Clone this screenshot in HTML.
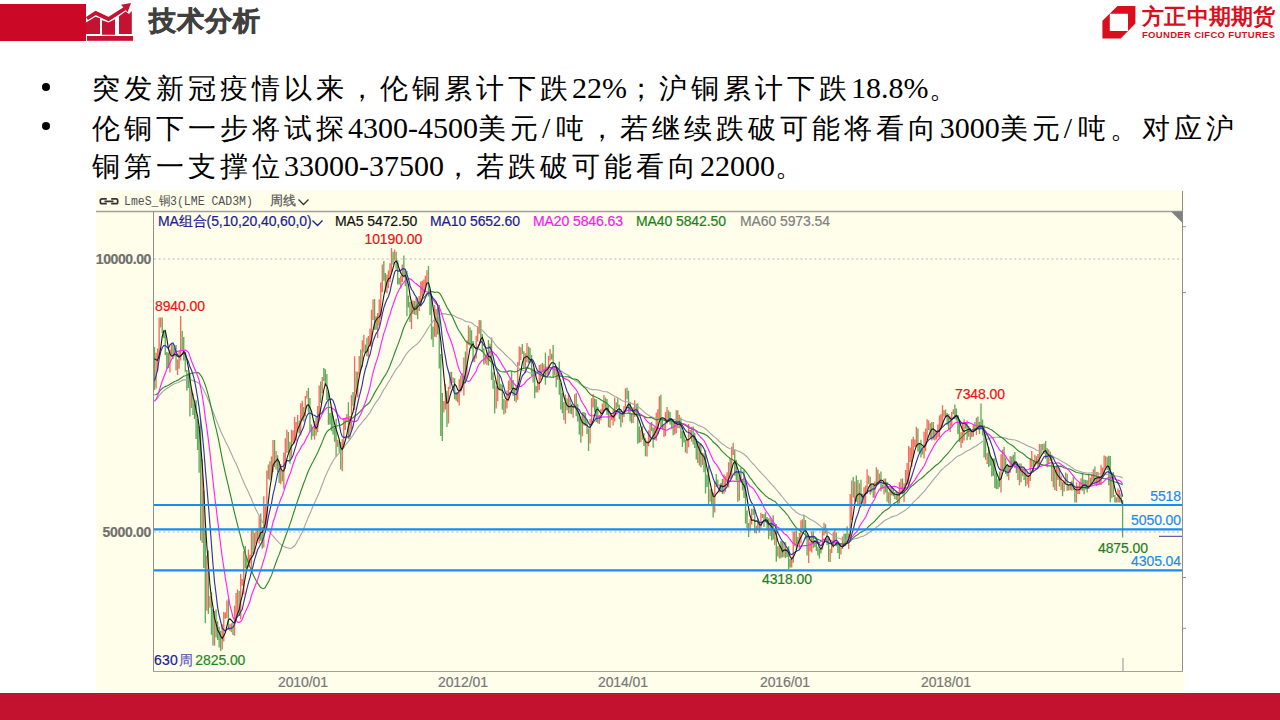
<!DOCTYPE html>
<html><head><meta charset="utf-8">
<style>
html,body{margin:0;padding:0;background:#fff;}
body{width:1280px;height:720px;position:relative;overflow:hidden;font-family:"Liberation Serif",serif;}
.abs{position:absolute;white-space:nowrap;}
#hdrbar{left:0;top:4px;width:86px;height:37px;background:#CB0826;}
#title{left:148.5px;top:1.5px;font-family:"Liberation Sans",sans-serif;font-weight:bold;font-size:27px;letter-spacing:1px;line-height:38px;color:#404040;-webkit-text-stroke:0.6px #404040;}
.bul{position:absolute;width:8px;height:8px;border-radius:50%;background:#000;}
.ln{position:absolute;white-space:nowrap;font-size:28px;letter-spacing:4px;line-height:38px;color:#000;}
.ln .n{font-size:30px;letter-spacing:0;}
#foot{left:0;top:693px;width:1280px;height:27px;background:#C21230;}
#chartbg{left:96px;top:190px;width:1089px;height:501px;background:#FFFEEB;}
.ct{position:absolute;white-space:nowrap;font-family:"Liberation Sans",sans-serif;font-size:14px;line-height:15px;-webkit-text-stroke:0.2px;letter-spacing:-0.1px;}
.rt{text-align:right;}
</style></head><body>
<div id="hdrbar" class="abs"></div>
<svg class="abs" style="left:84px;top:0" width="52" height="44" viewBox="84 0 52 44">
  <path d="M86 22.5 L95.5 16.8 L100 18.3 L100 33.9 L86 33.9Z" fill="#C41230"/>
  <path d="M102 20.2 L108.5 22.5 L115 19.3 L115 34.7 L102 34.7Z" fill="#C41230"/>
  <path d="M119 16.3 L125.6 11.5 L129 14 L131.8 11 L131.8 33.9 L119 33.9Z" fill="#C41230"/>
  <rect x="87" y="36" width="46" height="4.8" fill="#C41230"/>
  <path d="M87 18.5 L95.7 13 L108.5 19 L125 8.5" stroke="#C41230" stroke-width="3.8" fill="none" stroke-linejoin="miter"/>
  <path d="M121 4.8 L131 3 L127.6 12.2Z" fill="#C41230"/>
</svg>
<div id="title" class="abs">技术分析</div>
<!-- logo -->
<svg class="abs" style="left:1100px;top:4px" width="40" height="38" viewBox="1100 4 40 38">
  <path fill-rule="evenodd" fill="#DA0F1E" d="M1117.5 6 L1135.4 6 L1135.4 23.6 L1120.7 38.5 L1102.4 38.5 L1102.4 20.7Z M1109.8 13.7 L1128 13.7 L1128 30.9 L1109.8 30.9Z"/>
</svg>
<div class="abs" id="logocn" style="left:1142px;top:3.5px;letter-spacing:0.3px;font-family:'Liberation Sans',sans-serif;font-weight:bold;font-size:22px;line-height:26px;color:#DA0F1E;">方正中期期货</div>
<div class="abs" id="logoen" style="left:1142px;top:29.8px;letter-spacing:0.32px;font-family:'Liberation Sans',sans-serif;font-weight:bold;font-size:9.5px;line-height:10px;color:#DA0F1E;">FOUNDER CIFCO FUTURES</div>

<div class="bul" style="left:42px;top:83px"></div>
<div class="bul" style="left:42px;top:121.5px"></div>
<div class="ln" id="l1" style="left:92px;top:69px">突发新冠疫情以来，伦铜累计下跌<span class="n">22%</span>；沪铜累计下跌<span class="n">18.8%</span>。</div>
<div class="ln" id="l2" style="left:92px;top:109px">伦铜下一步将试探<span class="n">4300-4500</span>美元<span class="n" style="letter-spacing:5.5px">/</span>吨，若继续跌破可能将看向<span class="n">3000</span>美元<span class="n" style="letter-spacing:5.5px">/</span>吨。对应沪</div>
<div class="ln" id="l3" style="left:92px;top:146.5px">铜第一支撑位<span class="n">33000-37500</span>，若跌破可能看向<span class="n">22000</span>。</div>

<div id="chartbg" class="abs"></div>
<svg class="abs" style="left:0;top:0" width="1280" height="720" viewBox="0 0 1280 720">
  <!-- frame -->
  <rect x="1183" y="212" width="6" height="459" fill="#FFFFFF"/>
  <path d="M1183 226.7 H1186 M1183 292.5 H1186 M1183 577.5 H1186 M1183 628.3 H1186" stroke="#909090" stroke-width="1"/>
  <line x1="96" y1="211.5" x2="1182" y2="211.5" stroke="#A0A0A0" stroke-width="1.5"/>
  <line x1="153.5" y1="211" x2="153.5" y2="671" stroke="#909090" stroke-width="1"/>
  <line x1="1182.5" y1="191" x2="1182.5" y2="671" stroke="#909090" stroke-width="1"/>
  <line x1="153" y1="671.5" x2="1183" y2="671.5" stroke="#A0A0A0" stroke-width="1"/>
  <path d="M1171 211.5 L1182.5 211.5 L1182.5 223Z" fill="#808080"/>
  <line x1="154" y1="259" x2="1182" y2="259" stroke="#CFCFCF" stroke-width="1.3" stroke-dasharray="2 2.65"/>
  <line x1="154" y1="532" x2="1182" y2="532" stroke="#CFCFCF" stroke-width="1.3" stroke-dasharray="2 2.65"/>
  <g>
  <path d="M156.04 352.7V388.6M157.58 348.5V371.2M159.12 317.5V358.3M160.66 317.5V327.6M169.89 349.5V372.5M171.43 344.0V354.7M177.59 359.5V375.0M179.13 351.2V368.8M180.66 316.0V360.5M191.44 389.5V407.9M202.21 459.1V542.9M206.83 555.6V610.7M209.91 595.9V607.7M214.53 610.9V645.7M222.22 624.2V649.5M223.76 611.9V641.5M225.30 612.4V618.8M226.84 600.5V618.1M229.92 624.3V630.8M231.46 623.2V632.3M234.53 605.7V635.7M236.07 593.0V621.6M237.61 589.4V615.3M240.69 574.1V619.6M242.23 578.9V585.8M243.77 551.0V594.5M248.39 549.5V567.4M249.92 554.8V563.6M251.46 530.2V569.9M254.54 532.7V553.7M256.08 528.6V543.8M259.16 516.1V543.6M263.78 496.2V547.6M265.32 506.3V529.1M266.86 470.4V529.6M268.39 464.5V479.2M271.47 456.6V477.2M273.01 440.1V472.0M276.09 451.1V469.4M280.71 464.0V484.3M283.79 452.4V488.8M285.32 438.2V468.7M286.86 429.8V453.1M291.48 429.8V458.4M293.02 430.5V442.5M294.56 417.0V443.4M296.10 422.1V440.8M297.64 415.1V431.6M300.72 403.2V435.4M302.25 400.8V420.6M305.33 396.1V416.5M306.87 391.1V398.4M314.57 421.1V439.4M317.65 405.9V432.3M319.18 385.6V419.6M322.26 376.9V393.2M337.65 439.7V447.1M342.27 439.2V471.2M343.81 417.9V448.3M345.35 418.3V430.0M346.89 414.0V422.1M349.97 416.1V439.7M351.51 395.1V429.4M354.58 356.2V409.9M357.66 371.7V397.2M359.20 356.0V375.3M362.28 340.2V367.3M363.82 334.7V352.6M368.44 336.1V356.9M369.98 328.6V346.4M371.51 309.8V346.7M373.05 299.4V320.0M377.67 312.9V338.0M379.21 299.6V325.6M380.75 282.6V318.6M382.29 264.5V292.2M386.91 274.7V293.2M388.44 270.5V288.2M389.98 263.2V282.1M391.52 248.0V272.6M394.60 249.5V260.4M400.76 275.8V288.4M402.30 264.6V282.1M411.53 300.5V329.0M413.07 300.5V314.1M416.15 296.9V315.1M419.23 296.0V310.9M420.77 281.6V306.4M422.31 280.7V296.5M423.84 279.4V293.3M425.38 275.8V291.5M426.92 270.2V284.7M434.62 305.1V336.7M436.16 309.3V337.3M443.85 401.0V412.6M445.39 384.3V409.5M448.47 386.8V423.6M450.01 372.0V389.1M453.09 377.6V383.0M457.70 392.0V402.3M459.24 379.3V405.6M460.78 375.8V392.5M463.86 357.4V395.6M466.94 340.2V378.6M468.48 325.4V344.8M474.63 355.4V362.1M476.17 335.8V358.5M477.71 326.8V341.4M479.25 319.9V333.7M485.41 355.6V363.4M486.95 352.3V364.9M490.03 343.7V361.0M496.18 386.1V408.4M497.72 372.4V401.3M505.42 400.2V413.2M506.96 390.6V408.6M508.50 380.8V401.2M510.03 378.8V390.1M516.19 384.9V402.6M517.73 362.0V399.8M519.27 346.4V365.8M520.81 347.3V359.9M525.43 353.2V373.3M526.96 343.0V362.2M537.74 382.3V392.6M539.28 364.9V390.2M540.82 364.2V380.1M543.89 364.2V374.9M546.97 366.5V375.6M548.51 356.0V374.7M550.05 348.9V360.4M554.67 367.0V375.5M557.75 367.5V380.1M565.44 394.6V423.8M568.52 393.5V413.2M573.14 405.9V417.7M574.68 394.3V407.5M582.37 412.3V436.3M590.07 419.0V443.5M591.61 398.3V425.3M593.15 394.1V407.6M599.30 415.0V423.9M600.84 409.2V420.2M602.38 403.5V414.7M603.92 395.1V410.9M610.08 413.4V428.1M611.62 415.2V420.0M613.15 409.7V425.5M614.69 397.5V421.6M622.39 413.0V422.6M623.93 406.3V417.0M625.47 388.3V408.6M633.16 407.3V422.9M634.70 400.2V416.9M640.86 429.7V442.2M647.02 440.8V456.4M648.55 430.3V446.3M650.09 423.3V441.7M654.71 427.3V440.0M656.25 412.8V440.7M657.79 409.3V434.2M659.33 396.2V418.9M663.95 424.9V437.1M665.48 411.9V435.9M667.02 407.1V423.5M674.72 422.0V434.6M676.26 410.3V433.2M679.34 414.8V428.3M687.03 439.1V453.6M688.57 424.1V447.3M691.65 426.7V441.8M699.34 444.0V465.5M702.42 452.8V465.0M710.12 489.3V501.7M714.74 481.6V512.5M719.35 484.2V492.4M723.97 474.3V493.7M725.51 476.2V491.7M727.05 472.2V482.2M728.59 462.3V487.6M731.67 446.7V478.0M733.21 442.7V455.0M739.36 476.1V500.6M750.14 519.0V530.8M751.67 508.8V524.5M756.29 525.7V533.5M757.83 517.9V529.5M760.91 512.7V529.7M762.45 513.9V518.1M770.14 517.4V535.9M774.76 530.1V545.0M779.38 545.5V558.4M784.00 542.6V557.2M791.69 557.5V567.5M793.23 531.6V562.8M794.77 531.2V546.0M799.39 532.8V548.8M800.93 520.3V543.6M802.47 519.3V530.8M808.62 537.7V563.0M810.16 541.8V551.3M811.70 531.4V552.5M822.47 530.5V549.8M824.01 522.7V535.6M830.17 549.1V562.1M831.71 541.8V553.0M833.25 532.2V547.6M834.79 529.4V542.6M840.94 547.3V554.5M842.48 536.4V549.0M848.64 533.4V549.1M850.18 493.9V539.5M851.72 480.5V519.9M854.79 481.5V501.8M859.41 483.2V504.6M864.03 487.2V506.4M865.57 485.4V503.7M867.11 469.2V493.7M868.65 475.5V483.9M871.73 484.6V492.4M874.80 481.4V497.7M876.34 467.2V485.5M879.42 473.6V483.8M884.04 478.4V494.4M888.66 492.2V503.6M891.73 486.4V495.2M896.35 492.1V500.1M899.43 482.2V503.4M900.97 478.8V493.8M904.05 483.3V502.1M905.59 470.1V489.7M907.12 463.1V484.7M908.66 446.0V486.2M910.20 447.4V462.1M911.74 439.3V466.9M913.28 436.8V457.4M914.82 439.5V447.0M916.36 426.7V446.9M924.05 431.8V458.6M925.59 428.6V451.2M927.13 419.3V439.9M928.67 420.4V429.9M931.75 422.1V440.4M934.83 429.9V440.4M936.37 430.8V439.5M937.91 424.6V437.3M939.45 415.5V437.1M940.99 414.0V429.4M942.52 405.2V426.1M944.06 410.3V416.8M950.22 416.4V432.1M951.76 412.0V426.3M953.30 409.3V414.3M960.99 432.3V447.7M962.53 423.8V443.1M964.07 419.2V440.4M968.69 425.9V436.7M971.77 430.8V437.2M973.31 425.2V436.4M976.38 417.7V435.1M987.16 453.0V464.0M1001.01 454.2V492.5M1002.55 449.5V469.6M1008.71 465.6V480.3M1010.24 456.1V472.7M1019.48 463.4V485.3M1022.56 467.2V476.3M1027.18 471.9V484.5M1028.71 474.7V487.8M1030.25 458.4V481.0M1031.79 451.1V467.2M1034.87 454.7V466.3M1037.95 454.1V467.3M1039.49 444.0V467.3M1042.57 444.1V450.6M1048.72 449.5V463.1M1053.34 463.9V487.2M1056.42 465.3V490.9M1057.96 465.0V479.9M1061.04 475.4V490.0M1064.11 480.5V491.4M1065.65 472.5V483.4M1068.73 484.1V490.5M1071.81 480.8V490.8M1076.43 482.2V502.5M1077.97 485.8V494.0M1079.50 481.9V494.1M1081.04 478.3V490.4M1088.74 473.6V489.1M1091.82 474.0V484.1M1093.36 469.3V480.8M1096.44 472.0V486.0M1097.97 471.7V484.8M1099.51 475.9V483.9M1101.05 464.8V484.9M1102.59 467.5V478.9M1104.13 455.5V475.5M1105.67 456.2V467.4M1111.83 476.0V498.3M1117.98 488.6V502.5M1119.52 490.0V502.5" stroke="#F26F5C" stroke-width="1.35" fill="none"/>
<path d="M154.50 346.9V389.9M162.20 317.5V333.2M163.73 329.8V338.0M165.27 330.4V355.1M166.81 351.9V368.8M168.35 352.6V367.9M172.97 344.1V358.9M174.51 347.4V356.4M176.05 344.9V370.6M182.20 331.0V350.5M183.74 337.1V360.6M185.28 352.6V371.9M186.82 370.1V390.6M188.36 373.5V388.0M189.90 373.9V416.4M192.98 393.5V414.9M194.52 403.6V418.9M196.06 400.2V438.9M197.60 418.9V450.1M199.13 425.9V472.7M200.67 420.2V540.6M203.75 490.5V567.9M205.29 528.5V623.3M208.37 550.6V613.9M211.45 592.3V634.8M212.99 609.3V645.5M216.06 609.5V637.6M217.60 621.2V640.1M219.14 626.8V647.6M220.68 630.7V651.0M228.38 598.8V630.1M232.99 622.0V635.1M239.15 591.1V616.1M245.31 546.1V568.3M246.85 558.3V570.3M253.00 529.5V554.2M257.62 528.8V538.9M260.70 513.5V540.7M262.24 527.0V548.7M269.93 461.2V480.2M274.55 439.9V466.9M277.63 455.3V472.1M279.17 461.0V483.1M282.25 471.0V481.5M288.40 432.1V452.2M289.94 441.7V463.8M299.18 420.4V433.4M303.79 407.0V421.4M308.41 388.0V412.5M309.95 398.1V431.8M311.49 424.4V439.8M313.03 427.2V436.3M316.11 417.2V435.6M320.72 381.4V402.9M323.80 368.1V381.1M325.34 369.3V385.7M326.88 373.9V400.1M328.42 391.5V424.8M329.96 412.9V424.4M331.50 407.0V431.2M333.04 415.4V434.6M334.58 427.4V441.7M336.11 418.7V456.5M339.19 440.7V452.3M340.73 441.9V469.5M348.43 402.3V439.3M353.05 392.0V405.7M356.12 371.5V391.9M360.74 349.4V370.2M365.36 344.4V352.4M366.90 337.8V356.3M374.59 299.0V330.0M376.13 316.3V329.8M383.83 261.0V280.7M385.37 272.9V292.3M393.06 251.7V264.5M396.14 251.7V268.8M397.68 260.3V284.5M399.22 278.0V284.5M403.84 255.4V277.6M405.37 269.4V286.2M406.91 271.0V316.3M408.45 295.6V307.6M409.99 302.1V321.9M414.61 301.0V314.7M417.69 297.5V319.3M428.46 265.9V296.6M430.00 288.7V315.0M431.54 295.7V339.5M433.08 326.5V346.9M437.70 306.8V334.6M439.24 304.9V368.6M440.77 354.0V436.0M442.31 393.0V441.0M446.93 390.7V426.9M451.55 371.8V384.5M454.63 378.2V399.3M456.17 391.7V400.8M462.32 373.3V385.3M465.40 351.5V383.5M470.02 327.4V345.5M471.56 330.3V348.6M473.10 341.1V362.2M480.79 320.2V342.0M482.33 333.9V351.8M483.87 348.3V364.6M488.49 340.1V365.5M491.57 337.5V380.0M493.10 372.3V388.7M494.64 380.2V413.6M499.26 375.1V390.3M500.80 383.7V389.1M502.34 384.7V409.7M503.88 398.9V414.4M511.57 371.4V389.0M513.11 380.1V395.8M514.65 388.0V400.9M522.35 344.0V353.8M523.89 351.2V369.1M528.50 346.4V362.7M530.04 347.8V363.2M531.58 354.7V376.2M533.12 368.4V382.4M534.66 370.9V398.3M536.20 385.9V392.5M542.36 362.9V372.6M545.43 352.5V384.7M551.59 353.8V359.5M553.13 345.1V378.0M556.21 366.1V387.3M559.29 361.4V394.8M560.82 382.9V409.4M562.36 392.8V413.3M563.90 402.0V420.0M566.98 398.3V410.2M570.06 398.3V413.6M571.60 403.8V414.2M576.22 392.8V416.2M577.76 403.9V421.4M579.29 413.2V434.5M580.83 416.8V442.8M583.91 411.9V425.4M585.45 412.9V425.8M586.99 419.8V434.1M588.53 428.6V451.0M594.69 398.5V411.9M596.22 399.2V422.1M597.76 406.7V423.2M605.46 397.5V410.3M607.00 399.1V414.9M608.54 405.6V427.3M616.23 402.6V409.0M617.77 398.3V407.4M619.31 404.8V419.2M620.85 413.9V427.3M627.01 387.7V399.2M628.55 390.8V412.7M630.08 401.7V421.6M631.62 413.1V423.3M636.24 403.7V415.4M637.78 403.6V443.7M639.32 426.4V442.8M642.40 426.3V439.7M643.94 433.3V446.0M645.48 437.9V456.2M651.63 422.1V431.3M653.17 427.4V447.7M660.87 394.8V426.5M662.41 417.5V430.0M668.56 410.3V421.4M670.10 412.1V424.5M671.64 419.5V428.5M673.18 418.9V435.2M677.80 410.2V428.3M680.88 417.4V438.5M682.41 431.0V447.1M683.95 431.7V442.6M685.49 439.5V452.6M690.11 429.9V437.3M693.19 426.4V444.5M694.73 432.8V448.1M696.27 438.7V459.5M697.81 440.9V463.0M700.88 443.6V467.2M703.96 453.2V472.3M705.50 450.2V493.4M707.04 474.6V487.0M708.58 465.2V503.9M711.66 489.0V506.3M713.20 492.7V517.6M716.28 474.0V487.0M717.81 479.6V486.1M720.89 482.9V492.3M722.43 478.9V494.1M730.13 457.9V478.9M734.74 450.1V475.7M736.28 459.9V480.4M737.82 471.3V501.7M740.90 468.1V482.5M742.44 479.5V490.2M743.98 469.7V497.9M745.52 480.5V523.6M747.06 510.6V528.3M748.60 522.9V536.9M753.21 508.8V515.1M754.75 509.7V533.0M759.37 522.5V532.6M763.99 514.1V527.2M765.53 512.2V522.3M767.07 517.0V530.2M768.60 518.6V539.2M771.68 520.1V540.4M773.22 515.2V539.5M776.30 523.9V561.7M777.84 546.3V556.6M780.92 540.9V558.2M782.46 541.3V557.2M785.53 542.2V558.1M787.07 549.1V557.1M788.61 546.3V569.0M790.15 558.9V567.5M796.31 530.6V549.5M797.85 536.9V544.2M804.00 514.8V531.2M805.54 520.0V539.2M807.08 534.4V555.5M813.24 531.0V548.3M814.78 540.4V547.0M816.32 537.6V551.1M817.86 546.5V555.4M819.40 548.8V558.4M820.93 547.8V553.4M825.55 524.2V533.5M827.09 530.2V544.9M828.63 536.6V561.8M836.33 532.4V546.2M837.86 544.5V553.0M839.40 544.3V558.9M844.02 533.8V546.2M845.56 533.4V545.8M847.10 526.2V543.6M853.26 477.0V497.4M856.33 475.5V501.7M857.87 480.0V505.2M860.95 479.8V507.3M862.49 493.8V503.6M870.19 476.7V494.5M873.26 483.1V497.8M877.88 469.4V484.9M880.96 471.5V491.3M882.50 484.4V488.6M885.58 478.4V492.4M887.12 481.9V501.8M890.19 488.3V503.9M893.27 488.0V496.2M894.81 492.0V498.9M897.89 493.0V505.9M902.51 478.6V494.5M917.90 428.4V451.5M919.44 443.6V452.9M920.98 439.8V457.5M922.52 448.8V454.5M930.21 423.2V438.0M933.29 421.9V439.6M945.60 409.5V417.2M947.14 413.1V425.3M948.68 414.2V430.1M954.84 404.5V419.0M956.38 408.6V420.6M957.92 415.0V433.9M959.45 420.8V442.0M965.61 422.8V428.7M967.15 420.6V440.2M970.23 428.0V439.8M974.85 421.9V430.8M977.92 416.6V429.8M979.46 421.8V434.0M981.00 403.5V429.1M982.54 419.4V435.4M984.08 425.2V457.5M985.62 434.1V459.7M988.70 446.9V467.1M990.24 455.0V465.8M991.78 457.9V476.6M993.31 458.5V475.8M994.85 458.3V488.1M996.39 472.8V489.3M997.93 479.2V489.0M999.47 471.5V487.2M1004.09 446.7V469.4M1005.63 457.4V474.1M1007.17 465.2V476.4M1011.78 456.6V467.5M1013.32 454.7V465.4M1014.86 452.0V467.9M1016.40 463.5V473.1M1017.94 463.5V480.1M1021.02 463.5V482.3M1024.10 468.2V480.0M1025.64 469.1V486.2M1033.33 460.1V472.3M1036.41 456.3V464.5M1041.03 444.0V455.7M1044.11 443.5V453.9M1045.64 441.0V458.8M1047.18 448.2V467.2M1050.26 451.7V460.7M1051.80 454.7V481.2M1054.88 470.1V489.9M1059.50 467.8V486.5M1062.57 482.2V496.2M1067.19 473.8V490.7M1070.27 482.9V489.9M1073.35 477.2V490.2M1074.89 488.5V502.5M1082.58 474.1V490.7M1084.12 479.5V494.2M1085.66 479.8V489.5M1087.20 480.2V492.4M1090.28 477.7V485.6M1094.90 466.5V484.2M1107.21 456.8V470.1M1108.75 455.7V485.3M1110.29 456.0V502.3M1113.37 471.9V497.1M1114.90 495.1V502.5M1116.44 497.5V502.5M1121.06 493.8V502.5M1122.60 500.0V537.5" stroke="#62AB5C" stroke-width="1.35" fill="none"/>
<polyline points="154.5,400.8 156.0,399.5 157.6,398.0 159.1,396.0 160.7,393.9 162.2,392.1 163.7,390.7 165.3,389.5 166.8,388.6 168.4,387.6 169.9,386.5 171.4,385.4 173.0,384.5 174.5,383.7 176.0,383.3 177.6,382.8 179.1,382.1 180.7,381.2 182.2,380.4 183.7,379.9 185.3,379.9 186.8,379.9 188.4,379.9 189.9,380.0 191.4,380.1 193.0,380.6 194.5,381.1 196.1,381.8 197.6,382.6 199.1,383.5 200.7,385.4 202.2,387.3 203.8,390.2 205.3,393.6 206.8,396.6 208.4,400.2 209.9,403.6 211.4,407.6 213.0,411.8 214.5,415.5 216.1,419.6 217.6,423.4 219.1,427.0 220.7,431.0 222.2,434.5 223.8,437.8 225.3,441.1 226.8,444.0 228.4,447.0 229.9,450.5 231.5,453.9 233.0,457.5 234.5,460.7 236.1,463.7 237.6,467.3 239.2,471.2 240.7,474.9 242.2,478.7 243.8,482.2 245.3,485.8 246.8,488.7 248.4,492.0 249.9,495.4 251.5,499.0 253.0,503.1 254.5,506.5 256.1,509.8 257.6,512.8 259.2,515.6 260.7,518.4 262.2,521.4 263.8,524.2 265.3,526.8 266.9,528.9 268.4,530.6 269.9,532.4 271.5,534.3 273.0,536.0 274.6,537.9 276.1,539.7 277.6,541.2 279.2,542.9 280.7,544.3 282.2,545.6 283.8,546.6 285.3,547.1 286.9,547.6 288.4,548.0 289.9,548.4 291.5,548.2 293.0,547.0 294.6,545.8 296.1,543.6 297.6,540.7 299.2,538.3 300.7,535.1 302.3,532.0 303.8,528.5 305.3,524.4 306.9,520.6 308.4,516.9 310.0,513.4 311.5,510.0 313.0,506.3 314.6,502.8 316.1,499.6 317.6,496.2 319.2,492.6 320.7,488.7 322.3,484.5 323.8,480.4 325.3,476.4 326.9,472.9 328.4,469.7 330.0,466.6 331.5,463.6 333.0,461.0 334.6,458.5 336.1,456.7 337.7,454.7 339.2,452.8 340.7,451.3 342.3,449.3 343.8,447.3 345.3,445.1 346.9,443.1 348.4,441.4 350.0,439.4 351.5,437.3 353.0,435.1 354.6,432.4 356.1,430.2 357.7,427.9 359.2,425.9 360.7,424.2 362.3,422.1 363.8,420.1 365.4,418.5 366.9,416.7 368.4,414.7 370.0,412.6 371.5,409.8 373.1,407.0 374.6,404.4 376.1,402.2 377.7,400.2 379.2,398.0 380.7,395.4 382.3,392.3 383.8,389.6 385.4,387.2 386.9,384.8 388.4,382.2 390.0,379.7 391.5,376.9 393.1,374.4 394.6,371.8 396.1,369.3 397.7,367.4 399.2,365.5 400.8,363.4 402.3,360.8 403.8,358.1 405.4,355.5 406.9,353.4 408.5,351.4 410.0,349.8 411.5,348.5 413.1,347.0 414.6,345.9 416.1,344.7 417.7,343.4 419.2,341.8 420.8,339.7 422.3,337.5 423.8,335.2 425.4,332.7 426.9,330.1 428.5,327.5 430.0,325.3 431.5,323.3 433.1,321.1 434.6,319.0 436.2,317.1 437.7,315.5 439.2,314.5 440.8,314.0 442.3,313.7 443.9,313.8 445.4,313.7 446.9,314.5 448.5,314.6 450.0,314.6 451.5,314.9 453.1,315.2 454.6,316.1 456.2,317.0 457.7,317.7 459.2,318.2 460.8,318.8 462.3,319.6 463.9,320.3 465.4,321.4 466.9,321.8 468.5,321.9 470.0,322.2 471.6,322.7 473.1,323.9 474.6,325.3 476.2,326.3 477.7,327.1 479.3,327.8 480.8,328.9 482.3,330.2 483.9,332.0 485.4,333.7 486.9,335.3 488.5,336.8 490.0,337.9 491.6,339.5 493.1,341.3 494.6,343.5 496.2,345.6 497.7,347.3 499.3,348.7 500.8,350.0 502.3,351.4 503.9,353.1 505.4,354.8 507.0,356.2 508.5,357.6 510.0,358.8 511.6,360.3 513.1,361.9 514.7,363.8 516.2,365.6 517.7,367.0 519.3,368.4 520.8,369.3 522.3,370.0 523.9,370.7 525.4,371.1 527.0,371.6 528.5,372.4 530.0,373.0 531.6,373.3 533.1,373.0 534.7,372.7 536.2,372.5 537.7,372.4 539.3,371.7 540.8,371.3 542.4,371.2 543.9,371.0 545.4,370.9 547.0,370.5 548.5,369.8 550.1,369.1 551.6,368.7 553.1,368.6 554.7,368.5 556.2,368.7 557.7,368.9 559.3,369.6 560.8,370.7 562.4,371.8 563.9,373.0 565.4,373.7 567.0,374.5 568.5,375.5 570.1,376.7 571.6,378.1 573.1,379.3 574.7,380.2 576.2,381.1 577.8,382.1 579.3,383.3 580.8,384.5 582.4,385.7 583.9,386.4 585.5,387.1 587.0,387.6 588.5,388.3 590.1,389.0 591.6,389.4 593.1,389.6 594.7,389.6 596.2,389.7 597.8,389.9 599.3,390.3 600.8,390.7 602.4,391.2 603.9,391.5 605.5,391.7 607.0,391.9 608.5,392.5 610.1,393.4 611.6,394.4 613.2,395.5 614.7,396.3 616.2,396.9 617.8,397.7 619.3,398.8 620.9,399.8 622.4,400.7 623.9,401.3 625.5,401.6 627.0,401.7 628.5,402.0 630.1,402.6 631.6,403.4 633.2,404.1 634.7,404.7 636.2,405.5 637.8,406.5 639.3,407.6 640.9,409.0 642.4,410.4 643.9,411.8 645.5,413.1 647.0,414.3 648.6,415.3 650.1,416.2 651.6,416.9 653.2,417.6 654.7,418.0 656.2,418.1 657.8,418.3 659.3,418.3 660.9,418.6 662.4,418.9 663.9,419.2 665.5,419.3 667.0,419.6 668.6,419.6 670.1,419.6 671.6,419.6 673.2,419.5 674.7,419.6 676.3,419.6 677.8,419.6 679.3,419.5 680.9,419.4 682.4,419.7 684.0,420.2 685.5,421.0 687.0,421.6 688.6,421.8 690.1,422.1 691.6,422.4 693.2,422.8 694.7,423.5 696.3,424.3 697.8,425.2 699.3,425.8 700.9,426.4 702.4,427.0 704.0,427.7 705.5,428.8 707.0,430.2 708.6,431.7 710.1,433.1 711.7,434.5 713.2,436.0 714.7,437.1 716.3,438.4 717.8,439.9 719.4,441.4 720.9,442.8 722.4,443.9 724.0,444.9 725.5,446.1 727.0,447.3 728.6,448.1 730.1,448.8 731.7,449.0 733.2,449.2 734.7,449.7 736.3,450.3 737.8,451.0 739.4,451.6 740.9,452.3 742.4,453.2 744.0,454.2 745.5,455.5 747.1,457.0 748.6,458.8 750.1,460.6 751.7,462.4 753.2,464.0 754.8,465.7 756.3,467.4 757.8,469.1 759.4,471.0 760.9,472.7 762.4,474.2 764.0,475.8 765.5,477.3 767.1,479.0 768.6,481.0 770.1,482.6 771.7,484.4 773.2,486.0 774.8,487.6 776.3,489.5 777.8,491.3 779.4,493.1 780.9,495.1 782.5,497.0 784.0,499.0 785.5,500.8 787.1,502.6 788.6,504.4 790.2,506.3 791.7,508.1 793.2,509.5 794.8,510.8 796.3,512.2 797.8,513.2 799.4,514.2 800.9,514.7 802.5,515.1 804.0,515.6 805.5,516.0 807.1,517.2 808.6,518.2 810.2,519.2 811.7,519.9 813.2,520.8 814.8,521.7 816.3,522.8 817.9,524.0 819.4,525.2 820.9,526.6 822.5,527.7 824.0,528.9 825.6,530.2 827.1,531.4 828.6,532.7 830.2,533.6 831.7,534.7 833.2,535.7 834.8,536.6 836.3,537.5 837.9,538.0 839.4,538.5 840.9,538.9 842.5,539.1 844.0,539.6 845.6,540.1 847.1,540.3 848.6,540.4 850.2,540.2 851.7,539.5 853.3,539.2 854.8,538.8 856.3,538.4 857.9,538.1 859.4,537.3 861.0,536.8 862.5,536.4 864.0,535.8 865.6,535.0 867.1,534.1 868.6,532.8 870.2,531.8 871.7,530.7 873.3,529.7 874.8,528.6 876.3,527.3 877.9,526.2 879.4,525.0 881.0,523.7 882.5,522.3 884.0,521.0 885.6,520.0 887.1,519.3 888.7,518.5 890.2,517.8 891.7,516.9 893.3,516.4 894.8,516.0 896.4,515.5 897.9,514.8 899.4,513.8 901.0,512.8 902.5,511.9 904.0,511.1 905.6,510.1 907.1,508.9 908.7,507.4 910.2,505.8 911.7,504.2 913.3,502.4 914.8,500.9 916.4,499.4 917.9,498.0 919.4,496.5 921.0,494.7 922.5,493.0 924.1,491.3 925.6,489.6 927.1,487.7 928.7,485.7 930.2,483.8 931.8,481.7 933.3,479.8 934.8,478.0 936.4,476.2 937.9,474.3 939.4,472.4 941.0,470.5 942.5,468.8 944.1,467.6 945.6,466.2 947.1,465.1 948.7,463.8 950.2,462.5 951.8,461.4 953.3,459.9 954.8,458.4 956.4,457.1 957.9,456.1 959.5,455.5 961.0,454.8 962.5,453.8 964.1,452.7 965.6,451.7 967.1,450.9 968.7,450.2 970.2,449.4 971.8,448.6 973.3,447.6 974.8,446.7 976.4,445.7 977.9,444.7 979.5,443.6 981.0,442.4 982.5,441.4 984.1,440.7 985.6,440.0 987.2,439.3 988.7,438.7 990.2,438.1 991.8,437.6 993.3,437.4 994.9,437.3 996.4,437.2 997.9,437.2 999.5,437.4 1001.0,437.5 1002.5,437.5 1004.1,437.7 1005.6,438.1 1007.2,438.6 1008.7,439.2 1010.2,439.4 1011.8,439.6 1013.3,439.7 1014.9,440.0 1016.4,440.5 1017.9,441.1 1019.5,441.8 1021.0,442.7 1022.6,443.3 1024.1,444.1 1025.6,444.9 1027.2,445.6 1028.7,446.4 1030.3,446.9 1031.8,447.5 1033.3,448.2 1034.9,449.0 1036.4,449.9 1037.9,450.7 1039.5,451.1 1041.0,451.6 1042.6,452.0 1044.1,452.6 1045.6,453.3 1047.2,454.2 1048.7,454.9 1050.3,455.3 1051.8,455.9 1053.3,456.6 1054.9,457.5 1056.4,458.3 1058.0,459.1 1059.5,459.9 1061.0,460.8 1062.6,461.7 1064.1,462.6 1065.7,463.4 1067.2,464.4 1068.7,465.4 1070.3,466.5 1071.8,467.4 1073.3,468.5 1074.9,469.6 1076.4,470.3 1078.0,470.8 1079.5,471.3 1081.0,471.7 1082.6,472.2 1084.1,472.5 1085.7,472.8 1087.2,473.0 1088.7,473.0 1090.3,473.0 1091.8,472.8 1093.4,473.1 1094.9,473.4 1096.4,473.7 1098.0,473.9 1099.5,473.9 1101.1,474.0 1102.6,474.2 1104.1,474.2 1105.7,474.2 1107.2,474.3 1108.7,474.3 1110.3,474.6 1111.8,474.8 1113.4,475.1 1114.9,475.7 1116.4,476.0 1118.0,476.3 1119.5,476.6 1121.1,477.1 1122.6,478.1" stroke="#A8A8A8" stroke-width="1.15" fill="none"/>
<polyline points="154.5,394.9 156.0,394.5 157.6,393.7 159.1,391.9 160.7,389.8 162.2,388.5 163.7,387.4 165.3,386.6 166.8,386.0 168.4,385.2 169.9,384.3 171.4,383.3 173.0,382.4 174.5,381.5 176.0,381.0 177.6,380.4 179.1,379.4 180.7,378.3 182.2,377.2 183.7,376.1 185.3,375.7 186.8,375.2 188.4,374.3 189.9,373.8 191.4,373.2 193.0,373.0 194.5,372.8 196.1,372.7 197.6,372.4 199.1,373.2 200.7,375.3 202.2,377.6 203.8,381.1 205.3,385.3 206.8,389.8 208.4,395.6 209.9,401.6 211.4,408.4 213.0,415.8 214.5,422.6 216.1,428.7 217.6,435.4 219.1,442.4 220.7,450.8 222.2,458.9 223.8,466.1 225.3,473.1 226.8,479.4 228.4,486.1 229.9,492.7 231.5,499.4 233.0,506.3 234.5,512.8 236.1,519.1 237.6,525.1 239.2,531.1 240.7,536.9 242.2,542.8 243.8,548.0 245.3,553.3 246.8,558.1 248.4,562.5 249.9,566.9 251.5,570.4 253.0,574.2 254.5,577.4 256.1,580.5 257.6,583.1 259.2,585.4 260.7,587.5 262.2,588.3 263.8,588.6 265.3,587.4 266.9,584.5 268.4,581.9 269.9,578.7 271.5,575.4 273.0,570.9 274.6,566.4 276.1,562.3 277.6,558.1 279.2,554.4 280.7,550.3 282.2,545.7 283.8,541.3 285.3,537.0 286.9,532.6 288.4,528.7 289.9,524.4 291.5,519.8 293.0,514.9 294.6,510.0 296.1,505.4 297.6,500.8 299.2,496.3 300.7,491.5 302.3,487.2 303.8,483.0 305.3,479.1 306.9,474.8 308.4,471.0 310.0,467.6 311.5,464.4 313.0,461.7 314.6,458.5 316.1,455.7 317.6,452.7 319.2,449.1 320.7,445.7 322.3,441.9 323.8,437.9 325.3,434.6 326.9,431.8 328.4,430.3 330.0,429.2 331.5,427.9 333.0,427.0 334.6,426.6 336.1,426.2 337.7,425.8 339.2,425.5 340.7,425.1 342.3,424.3 343.8,423.0 345.3,422.0 346.9,421.4 348.4,421.0 350.0,420.3 351.5,418.8 353.0,417.8 354.6,416.3 356.1,415.2 357.7,413.9 359.2,412.3 360.7,410.8 362.3,409.1 363.8,407.5 365.4,405.9 366.9,404.8 368.4,403.5 370.0,401.6 371.5,399.0 373.1,395.8 374.6,392.9 376.1,390.4 377.7,387.8 379.2,385.3 380.7,382.9 382.3,379.9 383.8,377.4 385.4,375.2 386.9,372.6 388.4,369.5 390.0,365.8 391.5,361.7 393.1,357.6 394.6,353.3 396.1,349.2 397.7,345.1 399.2,341.1 400.8,336.8 402.3,331.8 403.8,327.5 405.4,323.9 406.9,321.0 408.5,318.2 410.0,315.5 411.5,312.7 413.1,310.3 414.6,308.1 416.1,306.4 417.7,304.4 419.2,302.6 420.8,301.1 422.3,299.1 423.8,297.5 425.4,295.9 426.9,294.0 428.5,292.4 430.0,291.7 431.5,291.5 433.1,291.9 434.6,292.3 436.2,292.2 437.7,292.1 439.2,292.9 440.8,294.9 442.3,297.8 443.9,301.0 445.4,303.9 446.9,307.2 448.5,309.9 450.0,312.4 451.5,315.1 453.1,318.3 454.6,321.7 456.2,325.3 457.7,328.5 459.2,331.0 460.8,333.4 462.3,335.9 463.9,338.4 465.4,340.8 466.9,342.4 468.5,343.1 470.0,343.9 471.6,344.6 473.1,345.9 474.6,347.3 476.2,348.0 477.7,348.8 479.3,349.3 480.8,350.2 482.3,351.5 483.9,353.5 485.4,355.4 486.9,357.2 488.5,359.3 490.0,360.8 491.6,362.4 493.1,363.8 494.6,365.5 496.2,367.4 497.7,369.1 499.3,370.7 500.8,371.5 502.3,371.7 503.9,371.8 505.4,371.8 507.0,371.8 508.5,371.1 510.0,370.8 511.6,371.1 513.1,371.5 514.7,371.9 516.2,371.8 517.7,370.9 519.3,369.9 520.8,369.1 522.3,368.5 523.9,368.2 525.4,368.1 527.0,367.7 528.5,368.1 530.0,368.8 531.6,369.6 533.1,370.4 534.7,371.1 536.2,371.9 537.7,373.1 539.3,374.1 540.8,375.1 542.4,375.9 543.9,376.4 545.4,376.7 547.0,376.9 548.5,377.0 550.1,376.9 551.6,377.2 553.1,377.1 554.7,376.8 556.2,376.2 557.7,375.7 559.3,375.8 560.8,376.1 562.4,376.6 563.9,377.0 565.4,376.7 567.0,376.7 568.5,376.9 570.1,377.5 571.6,378.2 573.1,378.8 574.7,379.0 576.2,379.4 577.8,380.1 579.3,381.7 580.8,383.6 582.4,385.3 583.9,387.0 585.5,388.4 587.0,390.2 588.5,392.5 590.1,394.0 591.6,395.2 593.1,396.0 594.7,396.6 596.2,397.3 597.8,398.0 599.3,398.7 600.8,399.7 602.4,400.7 603.9,401.5 605.5,402.5 607.0,403.4 608.5,404.8 610.1,406.3 611.6,407.8 613.2,409.3 614.7,410.0 616.2,410.8 617.8,411.5 619.3,412.6 620.9,413.4 622.4,413.9 623.9,413.9 625.5,413.3 627.0,413.2 628.5,413.2 630.1,413.7 631.6,414.1 633.2,414.0 634.7,414.0 636.2,414.3 637.8,414.8 639.3,415.3 640.9,415.5 642.4,415.7 643.9,416.3 645.5,417.1 647.0,417.6 648.6,417.7 650.1,417.4 651.6,417.6 653.2,418.4 654.7,419.2 656.2,419.6 657.8,419.6 659.3,419.2 660.9,419.3 662.4,419.7 663.9,420.2 665.5,420.6 667.0,420.8 668.6,420.9 670.1,420.9 671.6,421.0 673.2,421.3 674.7,421.6 676.3,421.9 677.8,422.5 679.3,422.9 680.9,423.3 682.4,423.8 684.0,424.4 685.5,425.4 687.0,426.6 688.6,427.5 690.1,428.1 691.6,428.4 693.2,428.9 694.7,429.7 696.3,430.8 697.8,432.0 699.3,432.3 700.9,432.9 702.4,433.4 704.0,433.9 705.5,434.8 707.0,435.6 708.6,437.0 710.1,438.3 711.7,440.0 713.2,442.0 714.7,443.2 716.3,444.5 717.8,446.0 719.4,447.8 720.9,450.0 722.4,451.7 724.0,453.1 725.5,454.4 727.0,455.9 728.6,457.1 730.1,458.5 731.7,459.3 733.2,460.0 734.7,460.9 736.3,462.3 737.8,464.2 739.4,465.6 740.9,467.0 742.4,468.2 744.0,469.4 745.5,471.3 747.1,473.3 748.6,475.5 750.1,477.8 751.7,479.7 753.2,481.8 754.8,483.9 756.3,486.0 757.8,487.9 759.4,489.5 760.9,491.3 762.4,492.6 764.0,494.2 765.5,495.8 767.1,496.9 768.6,498.2 770.1,498.8 771.7,499.7 773.2,500.7 774.8,501.2 776.3,503.0 777.8,504.7 779.4,506.3 780.9,507.9 782.5,509.5 784.0,510.9 785.5,512.7 787.1,514.5 788.6,516.5 790.2,519.2 791.7,521.4 793.2,523.7 794.8,525.8 796.3,527.6 797.8,529.2 799.4,530.3 800.9,531.5 802.5,532.5 804.0,533.6 805.5,534.8 807.1,535.7 808.6,536.2 810.2,536.6 811.7,536.8 813.2,537.5 814.8,538.3 816.3,538.8 817.9,539.4 819.4,540.0 820.9,540.6 822.5,541.0 824.0,541.3 825.6,541.6 827.1,542.0 828.6,542.7 830.2,543.2 831.7,543.7 833.2,544.0 834.8,544.0 836.3,544.3 837.9,544.2 839.4,544.1 840.9,544.2 842.5,543.9 844.0,543.6 845.6,543.5 847.1,543.2 848.6,542.8 850.2,541.5 851.7,539.4 853.3,537.8 854.8,536.5 856.3,535.6 857.9,534.5 859.4,533.1 861.0,532.1 862.5,531.5 864.0,530.8 865.6,529.8 867.1,528.3 868.6,526.4 870.2,525.1 871.7,523.7 873.3,522.6 874.8,521.2 876.3,519.4 877.9,517.7 879.4,515.9 881.0,514.3 882.5,512.7 884.0,511.4 885.6,510.3 887.1,509.4 888.7,508.3 890.2,506.8 891.7,505.3 893.3,504.0 894.8,503.0 896.4,502.0 897.9,500.8 899.4,499.3 901.0,497.6 902.5,496.1 904.0,494.8 905.6,493.3 907.1,491.6 908.7,489.4 910.2,487.5 911.7,486.0 913.3,485.0 914.8,483.6 916.4,482.2 917.9,480.9 919.4,479.6 921.0,478.7 922.5,477.5 924.1,476.0 925.6,474.6 927.1,473.0 928.7,471.7 930.2,470.6 931.8,469.0 933.3,467.7 934.8,466.3 936.4,465.0 937.9,464.0 939.4,462.6 941.0,461.0 942.5,459.2 944.1,457.4 945.6,455.7 947.1,454.1 948.7,452.3 950.2,450.5 951.8,448.5 953.3,446.5 954.8,444.5 956.4,442.4 957.9,440.8 959.5,439.3 961.0,437.9 962.5,436.6 964.1,434.9 965.6,433.5 967.1,432.3 968.7,431.2 970.2,430.6 971.8,430.1 973.3,429.5 974.8,429.1 976.4,428.5 977.9,428.3 979.5,427.9 981.0,427.3 982.5,426.8 984.1,426.8 985.6,427.2 987.2,427.6 988.7,428.4 990.2,429.3 991.8,430.1 993.3,431.2 994.9,432.4 996.4,433.6 997.9,434.8 999.5,436.2 1001.0,437.1 1002.5,438.0 1004.1,439.3 1005.6,440.7 1007.2,442.2 1008.7,443.4 1010.2,444.3 1011.8,445.2 1013.3,446.3 1014.9,447.6 1016.4,449.1 1017.9,450.5 1019.5,451.5 1021.0,452.4 1022.6,453.3 1024.1,454.5 1025.6,455.9 1027.2,457.2 1028.7,458.2 1030.3,459.1 1031.8,459.8 1033.3,460.5 1034.9,461.4 1036.4,462.2 1037.9,463.1 1039.5,463.7 1041.0,464.3 1042.6,464.8 1044.1,465.3 1045.6,465.5 1047.2,465.7 1048.7,465.8 1050.3,465.8 1051.8,466.1 1053.3,466.3 1054.9,466.8 1056.4,466.6 1058.0,466.2 1059.5,466.3 1061.0,466.2 1062.6,467.0 1064.1,467.7 1065.7,468.1 1067.2,468.6 1068.7,468.8 1070.3,469.3 1071.8,469.9 1073.3,470.7 1074.9,471.7 1076.4,472.3 1078.0,472.7 1079.5,473.0 1081.0,473.3 1082.6,473.6 1084.1,474.0 1085.7,474.2 1087.2,474.5 1088.7,474.6 1090.3,474.7 1091.8,475.1 1093.4,475.4 1094.9,475.8 1096.4,476.3 1098.0,476.6 1099.5,477.1 1101.1,477.7 1102.6,478.2 1104.1,478.6 1105.7,478.8 1107.2,479.0 1108.7,479.3 1110.3,480.2 1111.8,480.8 1113.4,481.3 1114.9,482.0 1116.4,482.3 1118.0,482.9 1119.5,483.5 1121.1,484.0 1122.6,485.1" stroke="#2E8B2E" stroke-width="1.15" fill="none"/>
<polyline points="154.5,401.4 156.0,399.4 157.6,396.2 159.1,391.2 160.7,385.6 162.2,381.1 163.7,377.2 165.3,373.2 166.8,368.9 168.4,366.2 169.9,362.9 171.4,359.8 173.0,356.4 174.5,352.8 176.0,351.8 177.6,351.4 179.1,351.0 180.7,350.6 182.2,350.6 183.7,350.7 185.3,349.9 186.8,350.9 188.4,352.4 189.9,356.4 191.4,360.8 193.0,364.8 194.5,368.5 196.1,372.2 197.6,375.9 199.1,380.2 200.7,387.7 202.2,395.4 203.8,405.7 205.3,417.8 206.8,427.8 208.4,439.8 209.9,452.2 211.4,466.1 213.0,481.0 214.5,494.5 216.1,507.5 217.6,519.9 219.1,532.4 220.7,545.3 222.2,557.0 223.8,567.4 225.3,577.6 226.8,586.5 228.4,596.3 229.9,605.2 231.5,611.2 233.0,617.3 234.5,619.9 236.1,620.4 237.6,622.3 239.2,622.4 240.7,621.6 242.2,619.5 243.8,615.1 245.3,612.1 246.8,608.7 248.4,605.2 249.9,601.3 251.5,595.4 253.0,591.3 254.5,587.5 256.1,583.3 257.6,579.7 259.2,574.6 260.7,569.8 262.2,565.4 263.8,559.9 265.3,554.9 266.9,548.5 268.4,541.6 269.9,535.0 271.5,529.1 273.0,522.2 274.6,517.7 276.1,512.5 277.6,507.5 279.2,503.6 280.7,499.2 282.2,496.0 283.8,491.4 285.3,486.5 286.9,482.0 288.4,477.7 289.9,474.3 291.5,469.7 293.0,464.5 294.6,460.2 296.1,455.9 297.6,453.2 299.2,451.0 300.7,448.0 302.3,445.2 303.8,443.7 305.3,440.5 306.9,437.1 308.4,434.5 310.0,431.5 311.5,429.5 313.0,427.4 314.6,425.7 316.1,424.9 317.6,423.5 319.2,420.4 320.7,417.2 322.3,414.0 323.8,411.3 325.3,409.1 326.9,407.7 328.4,407.5 330.0,407.3 331.5,407.8 333.0,408.8 334.6,409.6 336.1,411.9 337.7,414.5 339.2,416.4 340.7,418.6 342.3,419.2 343.8,418.6 345.3,418.4 346.9,417.9 348.4,418.6 350.0,420.2 351.5,420.5 353.0,421.6 354.6,421.3 356.1,421.3 357.7,420.1 359.2,417.1 360.7,414.3 362.3,410.5 363.8,406.3 365.4,402.2 366.9,397.7 368.4,392.6 370.0,386.8 371.5,379.3 373.1,372.4 374.6,367.1 376.1,362.4 377.7,357.7 379.2,352.0 380.7,345.6 382.3,339.3 383.8,333.3 385.4,329.1 386.9,323.9 388.4,318.9 390.0,314.5 391.5,309.1 393.1,304.8 394.6,300.2 396.1,296.1 397.7,292.6 399.2,289.5 400.8,286.9 402.3,284.3 403.8,282.7 405.4,280.7 406.9,279.5 408.5,278.6 410.0,278.9 411.5,279.7 413.1,281.2 414.6,282.9 416.1,283.6 417.7,285.0 419.2,286.3 420.8,287.6 422.3,289.0 423.8,290.3 425.4,291.6 426.9,291.8 428.5,292.3 430.0,293.8 431.5,296.2 433.1,299.5 434.6,302.0 436.2,303.7 437.7,304.7 439.2,307.1 440.8,310.9 442.3,315.8 443.9,320.9 445.4,325.0 446.9,330.7 448.5,334.8 450.0,338.5 451.5,342.7 453.1,347.5 454.6,353.1 456.2,359.1 457.7,365.2 459.2,369.7 460.8,373.0 462.3,375.6 463.9,377.2 465.4,379.6 466.9,381.0 468.5,381.5 470.0,380.7 471.6,378.3 473.1,376.0 474.6,373.7 476.2,371.0 477.7,366.8 479.3,363.8 480.8,361.8 482.3,360.3 483.9,359.5 485.4,357.6 486.9,355.4 488.5,353.5 490.0,351.8 491.6,351.7 493.1,352.0 494.6,353.9 496.2,355.2 497.7,357.2 499.3,359.9 500.8,362.3 502.3,365.1 503.9,367.5 505.4,369.9 507.0,372.6 508.5,375.3 510.0,377.9 511.6,380.5 513.1,382.6 514.7,384.3 516.2,385.9 517.7,386.5 519.3,386.4 520.8,386.5 522.3,385.3 523.9,384.4 525.4,382.3 527.0,380.1 528.5,379.0 530.0,377.8 531.6,376.9 533.1,375.6 534.7,374.6 536.2,373.9 537.7,373.5 539.3,372.8 540.8,372.2 542.4,371.4 543.9,370.1 545.4,369.0 547.0,367.9 548.5,367.6 550.1,367.5 551.6,367.9 553.1,368.9 554.7,369.2 556.2,370.0 557.7,371.3 559.3,372.6 560.8,374.4 562.4,376.3 563.9,378.3 565.4,378.9 567.0,379.6 568.5,380.3 570.1,382.1 571.6,384.3 573.1,386.2 574.7,387.9 576.2,389.8 577.8,392.4 579.3,395.8 580.8,399.7 582.4,402.8 583.9,405.0 585.5,407.6 587.0,410.4 588.5,413.7 590.1,415.4 591.6,416.0 593.1,415.7 594.7,415.0 596.2,415.7 597.8,416.3 599.3,417.1 600.8,417.3 602.4,417.1 603.9,416.8 605.5,417.0 607.0,416.9 608.5,417.1 610.1,416.7 611.6,416.0 613.2,415.7 614.7,414.9 616.2,414.0 617.8,412.6 619.3,411.4 620.9,411.4 622.4,411.8 623.9,412.1 625.5,411.6 627.0,410.6 628.5,410.1 630.1,410.3 631.6,410.8 633.2,411.0 634.7,411.3 636.2,411.5 637.8,412.7 639.3,413.4 640.9,414.3 642.4,415.4 643.9,416.8 645.5,419.3 647.0,421.1 648.6,422.7 650.1,423.4 651.6,423.9 653.2,425.1 654.7,426.2 656.2,427.7 657.8,428.6 659.3,428.4 660.9,428.4 662.4,428.7 663.9,429.4 665.5,430.0 667.0,430.2 668.6,429.2 670.1,428.3 671.6,427.8 673.2,427.2 674.7,426.3 676.3,424.6 677.8,423.8 679.3,423.0 680.9,423.3 682.4,423.7 684.0,423.8 685.5,424.6 687.0,425.4 688.6,426.3 690.1,427.9 691.6,428.4 693.2,429.1 694.7,430.0 696.3,431.6 697.8,433.8 699.3,435.5 700.9,437.5 702.4,438.9 704.0,440.5 705.5,443.3 707.0,446.6 708.6,450.1 710.1,453.6 711.7,456.8 713.2,460.3 714.7,462.6 716.3,464.4 717.8,466.6 719.4,469.4 720.9,472.1 722.4,475.1 724.0,477.1 725.5,478.8 727.0,480.2 728.6,480.4 730.1,481.6 731.7,481.1 733.2,481.0 734.7,481.4 736.3,481.3 737.8,481.9 739.4,481.0 740.9,480.4 742.4,479.6 744.0,478.5 745.5,480.1 747.1,482.1 748.6,484.4 750.1,486.2 751.7,487.3 753.2,488.4 754.8,490.8 756.3,493.3 757.8,495.5 759.4,498.6 760.9,500.9 762.4,504.1 764.0,507.5 765.5,510.2 767.1,512.6 768.6,514.5 770.1,516.6 771.7,519.1 773.2,521.8 774.8,523.9 776.3,525.8 777.8,527.3 779.4,528.3 780.9,529.7 782.5,531.7 784.0,533.4 785.5,534.5 787.1,535.7 788.6,537.5 790.2,539.7 791.7,541.9 793.2,543.2 794.8,544.1 796.3,545.1 797.8,545.8 799.4,546.1 800.9,546.4 802.5,546.0 804.0,545.5 805.5,545.6 807.1,545.6 808.6,545.0 810.2,544.8 811.7,544.0 813.2,543.4 814.8,543.3 816.3,543.0 817.9,543.0 819.4,542.5 820.9,541.5 822.5,540.2 824.0,539.4 825.6,539.1 827.1,539.0 828.6,539.7 830.2,540.2 831.7,541.1 833.2,542.0 834.8,542.5 836.3,542.9 837.9,542.7 839.4,543.3 840.9,543.5 842.5,543.8 844.0,543.7 845.6,543.6 847.1,543.4 848.6,542.5 850.2,540.5 851.7,537.4 853.3,535.5 854.8,533.6 856.3,532.1 857.9,530.1 859.4,526.5 861.0,524.0 862.5,521.8 864.0,519.5 865.6,517.1 867.1,513.7 868.6,510.1 870.2,507.0 871.7,503.9 873.3,501.5 874.8,498.7 876.3,495.1 877.9,492.1 879.4,489.4 881.0,488.1 882.5,487.9 884.0,487.2 885.6,487.1 887.1,486.8 888.7,486.5 890.2,487.1 891.7,486.6 893.3,486.3 894.8,486.4 896.4,486.8 897.9,487.8 899.4,488.5 901.0,488.2 902.5,488.4 904.0,488.1 905.6,487.9 907.1,488.1 908.7,486.8 910.2,485.5 911.7,484.0 913.3,482.0 914.8,480.1 916.4,477.4 917.9,475.0 919.4,472.7 921.0,470.4 922.5,468.4 924.1,465.7 925.6,462.7 927.1,459.2 928.7,455.6 930.2,452.7 931.8,449.9 933.3,447.1 934.8,444.4 936.4,442.1 937.9,439.8 939.4,438.3 941.0,436.5 942.5,434.5 944.1,432.8 945.6,431.3 947.1,430.8 948.7,429.6 950.2,428.3 951.8,426.6 953.3,424.6 954.8,423.2 956.4,422.1 957.9,422.4 959.5,423.1 961.0,423.1 962.5,423.4 964.1,422.8 965.6,422.5 967.1,422.6 968.7,422.6 970.2,423.0 971.8,423.7 973.3,424.4 974.8,425.3 976.4,425.7 977.9,425.9 979.5,426.1 981.0,426.3 982.5,427.1 984.1,429.0 985.6,431.1 987.2,433.1 988.7,434.3 990.2,435.5 991.8,437.1 993.3,438.9 994.9,441.9 996.4,444.7 997.9,447.0 999.5,449.8 1001.0,451.2 1002.5,452.3 1004.1,454.1 1005.6,456.1 1007.2,458.7 1008.7,460.9 1010.2,462.4 1011.8,464.1 1013.3,465.5 1014.9,466.3 1016.4,467.0 1017.9,468.0 1019.5,468.7 1021.0,469.4 1022.6,469.6 1024.1,470.1 1025.6,470.0 1027.2,469.7 1028.7,469.5 1030.3,468.3 1031.8,468.3 1033.3,468.7 1034.9,468.6 1036.4,468.3 1037.9,467.6 1039.5,466.5 1041.0,466.1 1042.6,465.5 1044.1,465.2 1045.6,464.8 1047.2,464.4 1048.7,463.5 1050.3,462.9 1051.8,462.9 1053.3,463.1 1054.9,463.5 1056.4,463.1 1058.0,462.8 1059.5,463.2 1061.0,464.2 1062.6,465.6 1064.1,466.6 1065.7,467.6 1067.2,468.8 1068.7,470.1 1070.3,472.0 1071.8,473.8 1073.3,475.9 1074.9,478.2 1076.4,479.9 1078.0,481.1 1079.5,482.4 1081.0,483.6 1082.6,484.2 1084.1,484.9 1085.7,485.0 1087.2,485.8 1088.7,486.4 1090.3,486.2 1091.8,486.0 1093.4,485.2 1094.9,484.9 1096.4,484.9 1098.0,484.5 1099.5,484.1 1101.1,483.3 1102.6,482.6 1104.1,481.3 1105.7,479.3 1107.2,478.2 1108.7,477.5 1110.3,477.9 1111.8,477.9 1113.4,478.3 1114.9,479.0 1116.4,479.7 1118.0,480.1 1119.5,480.6 1121.1,481.7 1122.6,484.3" stroke="#FF22FF" stroke-width="1.15" fill="none"/>
<polyline points="154.5,380.7 156.0,376.1 157.6,369.8 159.1,359.5 160.7,351.8 162.2,347.8 163.7,345.6 165.3,345.5 166.8,346.9 168.4,348.5 169.9,345.1 171.4,343.6 173.0,343.0 174.5,346.0 176.0,351.7 177.6,354.9 179.1,356.5 180.7,355.7 182.2,354.2 183.7,353.0 185.3,354.7 186.8,358.2 188.4,361.7 189.9,366.7 191.4,369.8 193.0,374.7 194.5,380.4 196.1,388.7 197.6,397.6 199.1,407.3 200.7,420.8 202.2,432.6 203.8,449.7 205.3,469.0 206.8,485.8 208.4,505.0 209.9,523.9 211.4,543.6 213.0,564.5 214.5,581.7 216.1,594.3 217.6,607.1 219.1,615.2 220.7,621.6 222.2,628.3 223.8,629.7 225.3,631.4 226.8,629.5 228.4,628.1 229.9,628.6 231.5,628.1 233.0,627.4 234.5,624.7 236.1,619.2 237.6,616.3 239.2,615.1 240.7,611.8 242.2,609.6 243.8,602.0 245.3,595.5 246.8,589.3 248.4,582.9 249.9,577.9 251.5,571.6 253.0,566.3 254.5,559.8 256.1,554.8 257.6,549.8 259.2,547.1 260.7,544.0 262.2,541.5 263.8,536.9 265.3,531.8 266.9,525.3 268.4,516.8 269.9,510.1 271.5,503.5 273.0,494.6 274.6,488.2 276.1,481.0 277.6,473.5 279.2,470.3 280.7,466.6 282.2,466.6 283.8,465.9 285.3,462.8 286.9,460.5 288.4,460.8 289.9,460.4 291.5,458.5 293.0,455.4 294.6,450.1 296.1,445.3 297.6,439.9 299.2,436.1 300.7,433.2 302.3,429.9 303.8,426.6 305.3,420.5 306.9,415.8 308.4,413.5 310.0,413.0 311.5,413.7 313.0,415.0 314.6,415.3 316.1,416.6 317.6,417.1 319.2,414.3 320.7,413.8 322.3,412.3 323.8,409.2 325.3,405.2 326.9,401.7 328.4,399.9 330.0,399.3 331.5,398.9 333.0,400.5 334.6,404.8 336.1,410.1 337.7,416.6 339.2,423.7 340.7,432.1 342.3,436.6 343.8,437.4 345.3,437.4 346.9,436.8 348.4,436.8 350.0,435.5 351.5,431.0 353.0,426.5 354.6,418.8 356.1,410.5 357.7,403.5 359.2,396.9 360.7,391.2 362.3,384.2 363.8,375.8 365.4,369.0 366.9,364.5 368.4,358.7 370.0,354.8 371.5,348.2 373.1,341.2 374.6,337.3 376.1,333.6 377.7,331.3 379.2,328.2 380.7,322.2 382.3,314.2 383.8,307.9 385.4,303.3 386.9,299.6 388.4,296.7 390.0,291.8 391.5,284.6 393.1,278.3 394.6,272.3 396.1,270.0 397.7,270.9 399.2,271.1 400.8,270.4 402.3,268.9 403.8,268.7 405.4,269.5 406.9,274.4 408.5,278.9 410.0,285.5 411.5,289.5 413.1,291.5 414.6,294.6 416.1,296.8 417.7,301.0 419.2,304.0 420.8,305.6 422.3,303.7 423.8,301.6 425.4,297.6 426.9,294.2 428.5,293.1 430.0,293.1 431.5,295.6 433.1,298.0 434.6,299.9 436.2,301.8 437.7,305.7 439.2,312.6 440.8,324.2 442.3,337.5 443.9,348.7 445.4,356.9 446.9,365.8 448.5,371.5 450.0,377.1 451.5,383.6 453.1,389.3 454.6,393.6 456.2,393.9 457.7,393.0 459.2,390.8 460.8,389.2 462.3,385.5 463.9,382.9 465.4,382.1 466.9,378.4 468.5,373.6 470.0,367.9 471.6,362.7 473.1,359.0 474.6,356.7 476.2,352.9 477.7,348.2 479.3,344.6 480.8,341.5 482.3,342.3 483.9,345.3 485.4,347.4 486.9,348.1 488.5,347.9 490.0,346.9 491.6,350.6 493.1,355.8 494.6,363.1 496.2,369.0 497.7,372.1 499.3,374.5 500.8,377.2 502.3,382.1 503.9,387.2 505.4,392.9 507.0,394.7 508.5,394.8 510.0,392.8 511.6,392.0 513.1,393.1 514.7,394.1 516.2,394.7 517.7,391.0 519.3,385.5 520.8,380.1 522.3,375.8 523.9,373.9 525.4,371.8 527.0,368.3 528.5,365.0 530.0,361.4 531.6,359.1 533.1,360.3 534.7,363.7 536.2,367.7 537.7,371.1 539.3,371.7 540.8,372.5 542.4,374.5 543.9,375.3 545.4,376.7 547.0,376.6 548.5,374.8 550.1,371.3 551.6,368.0 553.1,366.7 554.7,366.6 556.2,367.5 557.7,368.0 559.3,370.0 560.8,372.0 562.4,376.0 563.9,381.7 565.4,386.4 567.0,391.2 568.5,394.0 570.1,397.5 571.6,401.1 573.1,404.4 574.7,405.8 576.2,407.6 577.8,408.8 579.3,409.9 580.8,413.0 582.4,414.5 583.9,416.1 585.5,417.8 587.0,419.8 588.5,423.0 590.1,425.0 591.6,424.3 593.1,422.6 594.7,420.1 596.2,418.4 597.8,418.2 599.3,418.1 600.8,416.9 602.4,414.3 603.9,410.6 605.5,409.1 607.0,409.6 608.5,411.7 610.1,413.2 611.6,413.5 613.2,413.2 614.7,411.8 616.2,411.1 617.8,410.9 619.3,412.3 620.9,413.6 622.4,414.0 623.9,412.4 625.5,409.9 627.0,407.7 628.5,407.1 630.1,408.9 631.6,410.5 633.2,411.1 634.7,410.2 636.2,409.4 637.8,411.3 639.3,414.4 640.9,418.8 642.4,423.1 643.9,426.6 645.5,429.6 647.0,431.7 648.6,434.4 650.1,436.6 651.6,438.5 653.2,438.8 654.7,438.1 656.2,436.7 657.8,434.2 659.3,430.1 660.9,427.1 662.4,425.6 663.9,424.4 665.5,423.4 667.0,421.9 668.6,419.5 670.1,418.6 671.6,418.9 673.2,420.3 674.7,422.5 676.3,422.1 677.8,422.0 679.3,421.7 680.9,423.1 682.4,425.5 684.0,428.1 685.5,430.5 687.0,432.0 688.6,432.3 690.1,433.2 691.6,434.7 693.2,436.2 694.7,438.4 696.3,440.1 697.8,442.1 699.3,442.9 700.9,444.5 702.4,445.9 704.0,448.7 705.5,453.4 707.0,458.5 708.6,464.1 710.1,468.8 711.7,473.5 713.2,478.6 714.7,482.2 716.3,484.4 717.8,487.4 719.4,490.0 720.9,490.9 722.4,491.6 724.0,490.1 725.5,488.7 727.0,486.9 728.6,482.2 730.1,481.0 731.7,477.8 733.2,474.6 734.7,472.7 736.3,471.7 737.8,472.1 739.4,471.9 740.9,472.0 742.4,472.3 744.0,474.8 745.5,479.3 747.1,486.4 748.6,494.1 750.1,499.6 751.7,502.9 753.2,504.7 754.8,509.7 756.3,514.5 757.8,518.8 759.4,522.4 760.9,522.5 762.4,521.7 764.0,520.8 765.5,520.7 767.1,522.3 768.6,524.3 770.1,523.6 771.7,523.6 773.2,524.8 774.8,525.5 776.3,529.1 777.8,532.9 779.4,535.8 780.9,538.7 782.5,541.1 784.0,542.5 785.5,545.5 787.1,547.8 788.6,550.1 790.2,554.0 791.7,554.6 793.2,553.5 794.8,552.3 796.3,551.5 797.8,550.4 799.4,549.7 800.9,547.2 802.5,544.1 804.0,540.8 805.5,537.3 807.1,536.6 808.6,536.6 810.2,537.3 811.7,536.5 813.2,536.4 814.8,536.8 816.3,538.9 817.9,541.9 819.4,544.3 820.9,545.8 822.5,543.8 824.0,542.3 825.6,540.9 827.1,541.5 828.6,543.1 830.2,543.6 831.7,543.4 833.2,542.2 834.8,540.7 836.3,540.1 837.9,541.7 839.4,544.3 840.9,546.2 842.5,546.1 844.0,544.4 845.6,543.7 847.1,543.3 848.6,542.8 850.2,540.3 851.7,534.7 853.3,529.4 854.8,523.0 856.3,518.0 857.9,514.1 859.4,508.7 861.0,504.3 862.5,500.3 864.0,496.2 865.6,494.0 867.1,492.8 868.6,490.9 870.2,490.9 871.7,489.7 873.3,488.8 874.8,488.8 876.3,485.9 877.9,483.9 879.4,482.6 881.0,482.1 882.5,483.1 884.0,483.5 885.6,483.2 887.1,483.9 888.7,484.2 890.2,485.4 891.7,487.3 893.3,488.7 894.8,490.3 896.4,491.5 897.9,492.6 899.4,493.5 901.0,493.2 902.5,492.9 904.0,492.0 905.6,490.4 907.1,488.8 908.7,485.0 910.2,480.8 911.7,476.5 913.3,471.4 914.8,466.7 916.4,461.6 917.9,457.1 919.4,453.4 921.0,450.5 922.5,448.0 924.1,446.4 925.6,444.7 927.1,442.0 928.7,439.8 930.2,438.8 931.8,438.1 933.3,437.1 934.8,435.4 936.4,433.7 937.9,431.7 939.4,430.2 941.0,428.4 942.5,427.0 944.1,425.7 945.6,423.9 947.1,423.4 948.7,422.2 950.2,421.2 951.8,419.6 953.3,417.6 954.8,416.3 956.4,415.8 957.9,417.8 959.5,420.4 961.0,422.2 962.5,423.4 964.1,423.4 965.6,423.8 967.1,425.7 968.7,427.6 970.2,429.7 971.8,431.5 973.3,431.1 974.8,430.3 976.4,429.1 977.9,428.4 979.5,428.9 981.0,428.8 982.5,428.4 984.1,430.3 985.6,432.5 987.2,434.6 988.7,437.6 990.2,440.8 991.8,445.1 993.3,449.4 994.9,455.0 996.4,460.6 997.9,465.7 999.5,469.3 1001.0,469.9 1002.5,470.1 1004.1,470.6 1005.6,471.4 1007.2,472.3 1008.7,472.4 1010.2,469.9 1011.8,467.7 1013.3,465.3 1014.9,463.3 1016.4,464.2 1017.9,466.0 1019.5,466.8 1021.0,467.3 1022.6,466.8 1024.1,467.7 1025.6,470.0 1027.2,471.7 1028.7,473.6 1030.3,473.3 1031.8,472.4 1033.3,471.5 1034.9,470.4 1036.4,469.3 1037.9,468.3 1039.5,465.4 1041.0,462.3 1042.6,459.3 1044.1,456.8 1045.6,456.2 1047.2,456.4 1048.7,455.6 1050.3,455.4 1051.8,456.5 1053.3,457.8 1054.9,461.5 1056.4,464.0 1058.0,466.3 1059.5,469.6 1061.0,472.2 1062.6,474.9 1064.1,477.7 1065.7,479.8 1067.2,481.1 1068.7,482.3 1070.3,482.5 1071.8,483.5 1073.3,485.4 1074.9,486.8 1076.4,487.6 1078.0,487.2 1079.5,487.2 1081.0,487.4 1082.6,487.4 1084.1,487.5 1085.7,487.5 1087.2,488.1 1088.7,487.4 1090.3,485.7 1091.8,484.4 1093.4,483.2 1094.9,482.7 1096.4,482.5 1098.0,481.6 1099.5,480.8 1101.1,479.1 1102.6,477.1 1104.1,475.1 1105.7,473.0 1107.2,471.9 1108.7,471.8 1110.3,473.1 1111.8,473.3 1113.4,475.0 1114.9,477.3 1116.4,480.2 1118.0,483.1 1119.5,486.1 1121.1,490.5 1122.6,496.6" stroke="#3434A8" stroke-width="1.15" fill="none"/>
<polyline points="154.5,358.8 156.0,359.8 157.6,360.3 159.1,355.8 160.7,348.0 162.2,336.7 163.7,331.3 165.3,330.6 166.8,338.0 168.4,348.9 169.9,353.5 171.4,356.0 173.0,355.4 174.5,354.1 176.0,354.6 177.6,356.4 179.1,357.1 180.7,355.9 182.2,354.3 183.7,351.4 185.3,353.1 186.8,359.2 188.4,367.5 189.9,379.0 191.4,388.3 193.0,396.4 194.5,401.6 196.1,409.8 197.6,416.1 199.1,426.3 200.7,445.2 202.2,463.6 203.8,489.5 205.3,521.8 206.8,545.3 208.4,564.8 209.9,584.2 211.4,597.7 213.0,607.1 214.5,618.1 216.1,623.7 217.6,630.1 219.1,632.6 220.7,636.1 222.2,638.5 223.8,635.7 225.3,632.7 226.8,626.3 228.4,620.1 229.9,618.8 231.5,620.4 233.0,622.2 234.5,623.2 236.1,618.4 237.6,613.8 239.2,609.8 240.7,601.3 242.2,596.0 243.8,585.6 245.3,577.3 246.8,568.7 248.4,564.4 249.9,559.9 251.5,557.6 253.0,555.4 254.5,550.9 256.1,545.2 257.6,539.8 259.2,536.7 260.7,532.6 262.2,532.2 263.8,528.6 265.3,523.8 266.9,514.0 268.4,501.1 269.9,488.0 271.5,478.3 273.0,465.4 274.6,462.5 276.1,460.9 277.6,459.0 279.2,462.2 280.7,467.9 282.2,470.7 283.8,470.9 285.3,466.7 286.9,458.7 288.4,453.7 289.9,450.1 291.5,446.1 293.0,444.1 294.6,441.4 296.1,436.8 297.6,429.6 299.2,426.1 300.7,422.3 302.3,418.4 303.8,416.3 305.3,411.4 306.9,405.4 308.4,404.8 310.0,407.7 311.5,411.1 313.0,418.6 314.6,425.2 316.1,428.5 317.6,426.4 319.2,417.6 320.7,408.9 322.3,399.4 323.8,389.8 325.3,384.0 326.9,385.9 328.4,390.9 330.0,399.2 331.5,408.1 333.0,417.0 334.6,423.8 336.1,429.2 337.7,434.1 339.2,439.3 340.7,447.2 342.3,449.5 343.8,445.5 345.3,440.7 346.9,434.2 348.4,426.3 350.0,421.5 351.5,416.4 353.0,412.3 354.6,403.4 356.1,394.7 357.7,385.6 359.2,377.4 360.7,370.2 362.3,364.9 363.8,357.0 365.4,352.4 366.9,351.6 368.4,347.3 370.0,344.7 371.5,339.4 373.1,330.0 374.6,322.9 376.1,320.0 377.7,317.8 379.2,316.9 380.7,314.4 382.3,305.5 383.8,295.8 385.4,288.9 386.9,282.4 388.4,279.0 390.0,278.1 391.5,273.4 393.1,267.8 394.6,262.3 396.1,261.1 397.7,263.7 399.2,268.8 400.8,273.1 402.3,275.5 403.8,276.2 405.4,275.4 406.9,279.9 408.5,284.8 410.0,295.4 411.5,302.7 413.1,307.7 414.6,309.3 416.1,308.9 417.7,306.6 419.2,305.3 420.8,303.5 422.3,298.1 423.8,294.3 425.4,288.7 426.9,283.1 428.5,282.6 430.0,288.1 431.5,296.9 433.1,307.4 434.6,316.8 436.2,321.0 437.7,323.2 439.2,328.3 440.8,341.1 442.3,358.1 443.9,376.3 445.4,390.5 446.9,403.2 448.5,402.0 450.0,396.1 451.5,391.0 453.1,388.0 454.6,384.0 456.2,385.8 457.7,389.9 459.2,390.6 460.8,390.3 462.3,387.0 463.9,380.0 465.4,374.2 466.9,366.1 468.5,357.0 470.0,348.7 471.6,345.3 473.1,343.9 474.6,347.2 476.2,348.7 477.7,347.7 479.3,343.9 480.8,339.2 482.3,337.4 483.9,341.9 485.4,347.1 486.9,352.2 488.5,356.6 490.0,356.4 491.6,359.3 493.1,364.4 494.6,374.0 496.2,381.3 497.7,387.7 499.3,389.6 500.8,389.9 502.3,390.2 503.9,393.1 505.4,398.0 507.0,399.8 508.5,399.6 510.0,395.4 511.6,390.8 513.1,388.2 514.7,388.5 516.2,389.8 517.7,386.6 519.3,380.3 520.8,372.0 522.3,363.2 523.9,358.1 525.4,357.1 527.0,356.2 528.5,358.0 530.0,359.6 531.6,360.2 533.1,363.5 534.7,371.2 536.2,377.4 537.7,382.7 539.3,383.3 540.8,381.5 542.4,377.9 543.9,373.2 545.4,370.8 547.0,369.8 548.5,368.0 550.1,364.7 551.6,362.8 553.1,362.7 554.7,363.4 556.2,367.0 557.7,371.2 559.3,377.1 560.8,381.4 562.4,388.5 563.9,396.5 565.4,401.6 567.0,405.2 568.5,406.6 570.1,406.6 571.6,405.6 573.1,407.1 574.7,406.4 576.2,408.7 577.8,411.0 579.3,414.2 580.8,418.9 582.4,422.5 583.9,423.4 585.5,424.5 587.0,425.4 588.5,427.1 590.1,427.4 591.6,425.1 593.1,420.7 594.7,414.9 596.2,409.8 597.8,409.1 599.3,411.0 600.8,413.1 602.4,413.8 603.9,411.4 605.5,409.2 607.0,408.2 608.5,410.3 610.1,412.7 611.6,415.7 613.2,417.2 614.7,415.4 616.2,411.9 617.8,409.2 619.3,408.9 620.9,410.0 622.4,412.6 623.9,413.0 625.5,410.5 627.0,406.4 628.5,404.1 630.1,405.2 631.6,408.1 633.2,411.6 634.7,414.1 636.2,414.7 637.8,417.5 639.3,420.8 640.9,426.1 642.4,432.1 643.9,438.4 645.5,441.7 647.0,442.7 648.6,442.7 650.1,441.1 651.6,438.5 653.2,435.9 654.7,433.5 656.2,430.6 657.8,427.3 659.3,421.8 660.9,418.3 662.4,417.8 663.9,418.3 665.5,419.5 667.0,422.0 668.6,420.8 670.1,419.5 671.6,419.4 673.2,421.0 674.7,423.1 676.3,423.4 677.8,424.5 679.3,423.9 680.9,425.2 682.4,428.0 684.0,432.8 685.5,436.5 687.0,440.0 688.6,439.4 690.1,438.4 691.6,436.6 693.2,435.8 694.7,436.8 696.3,440.7 697.8,445.7 699.3,449.2 700.9,453.2 702.4,455.0 704.0,456.7 705.5,461.0 707.0,467.9 708.6,475.0 710.1,482.6 711.7,490.3 713.2,496.2 714.7,496.5 716.3,493.8 717.8,492.2 719.4,489.7 720.9,485.5 722.4,486.7 724.0,486.4 725.5,485.3 727.0,484.1 728.6,479.0 730.1,475.2 731.7,469.2 733.2,463.9 734.7,461.4 736.3,464.4 737.8,469.1 739.4,474.6 740.9,480.2 742.4,483.3 744.0,485.3 745.5,489.6 747.1,498.3 748.6,508.1 750.1,516.0 751.7,520.4 753.2,519.9 754.8,521.1 756.3,520.9 757.8,521.5 759.4,524.4 760.9,525.2 762.4,522.4 764.0,520.6 765.5,519.8 767.1,520.2 768.6,523.3 770.1,524.8 771.7,526.6 773.2,529.7 774.8,530.8 776.3,534.9 777.8,541.1 779.4,545.0 780.9,547.6 782.5,551.5 784.0,550.1 785.5,549.9 787.1,550.7 788.6,552.7 790.2,556.5 791.7,559.1 793.2,557.1 794.8,554.0 796.3,550.2 797.8,544.3 799.4,540.3 800.9,537.3 802.5,534.3 804.0,531.3 805.5,530.3 807.1,532.8 808.6,535.8 810.2,540.3 811.7,541.6 813.2,542.4 814.8,540.9 816.3,541.9 817.9,543.4 819.4,547.0 820.9,549.1 822.5,546.7 824.0,542.6 825.6,538.3 827.1,536.0 828.6,537.0 830.2,540.5 831.7,544.2 833.2,546.1 834.8,545.4 836.3,543.2 837.9,542.8 839.4,544.3 840.9,546.3 842.5,546.8 844.0,545.7 845.6,544.5 847.1,542.3 848.6,539.3 850.2,533.7 851.7,523.6 853.3,514.2 854.8,503.6 856.3,496.6 857.9,494.6 859.4,493.7 861.0,494.5 862.5,496.9 864.0,495.7 865.6,493.4 867.1,491.9 868.6,487.4 870.2,485.0 871.7,483.8 873.3,484.2 874.8,485.6 876.3,484.4 877.9,482.7 879.4,481.4 881.0,480.0 882.5,480.5 884.0,482.6 885.6,483.7 887.1,486.3 888.7,488.4 890.2,490.3 891.7,492.0 893.3,493.7 894.8,494.3 896.4,494.5 897.9,494.9 899.4,494.9 901.0,492.7 902.5,491.5 904.0,489.6 905.6,485.9 907.1,482.7 908.7,477.4 910.2,470.1 911.7,463.4 913.3,456.9 914.8,450.7 916.4,445.8 917.9,444.1 919.4,443.4 921.0,444.1 922.5,445.3 924.1,447.1 925.6,445.3 927.1,440.6 928.7,435.6 930.2,432.3 931.8,429.2 933.3,428.9 934.8,430.2 936.4,431.7 937.9,431.1 939.4,431.2 941.0,427.9 942.5,423.9 944.1,419.7 945.6,416.7 947.1,415.5 948.7,416.4 950.2,418.6 951.8,419.4 953.3,418.5 954.8,417.1 956.4,415.3 957.9,416.9 959.5,421.4 961.0,426.0 962.5,429.8 964.1,431.5 965.6,430.6 967.1,430.0 968.7,429.3 970.2,429.5 971.8,431.5 973.3,431.6 974.8,430.5 976.4,429.0 977.9,427.4 979.5,426.2 981.0,426.1 982.5,426.3 984.1,431.7 985.6,437.6 987.2,443.0 988.7,449.1 990.2,455.2 991.8,458.6 993.3,461.2 994.9,466.9 996.4,472.1 997.9,476.1 999.5,480.0 1001.0,478.7 1002.5,473.3 1004.1,469.2 1005.6,466.7 1007.2,464.6 1008.7,466.2 1010.2,466.6 1011.8,466.2 1013.3,464.0 1014.9,461.9 1016.4,462.1 1017.9,465.3 1019.5,467.4 1021.0,470.7 1022.6,471.7 1024.1,473.2 1025.6,474.7 1027.2,476.0 1028.7,476.4 1030.3,475.0 1031.8,471.7 1033.3,468.2 1034.9,464.8 1036.4,462.1 1037.9,461.7 1039.5,459.1 1041.0,456.3 1042.6,453.8 1044.1,451.5 1045.6,450.7 1047.2,453.6 1048.7,454.9 1050.3,457.1 1051.8,461.4 1053.3,464.9 1054.9,469.5 1056.4,473.2 1058.0,475.6 1059.5,477.7 1061.0,479.4 1062.6,480.4 1064.1,482.2 1065.7,484.1 1067.2,484.5 1068.7,485.2 1070.3,484.6 1071.8,484.8 1073.3,486.7 1074.9,489.1 1076.4,490.0 1078.0,489.8 1079.5,489.5 1081.0,488.1 1082.6,485.6 1084.1,485.0 1085.7,485.2 1087.2,486.7 1088.7,486.7 1090.3,485.7 1091.8,483.7 1093.4,481.2 1094.9,478.7 1096.4,478.3 1098.0,477.5 1099.5,477.8 1101.1,477.0 1102.6,475.5 1104.1,472.0 1105.7,468.5 1107.2,466.1 1108.7,466.5 1110.3,470.8 1111.8,474.7 1113.4,481.6 1114.9,488.5 1116.4,493.9 1118.0,495.4 1119.5,497.4 1121.1,499.4 1122.6,504.7" stroke="#1A1A1A" stroke-width="1.1" fill="none"/>
  </g>
  <line x1="154" y1="505" x2="1182" y2="505" stroke="#1A8CF0" stroke-width="2.2"/>
  <line x1="154" y1="529.3" x2="1182" y2="529.3" stroke="#1A8CF0" stroke-width="2.2"/>
  <line x1="154" y1="570.3" x2="1182" y2="570.3" stroke="#1A8CF0" stroke-width="2.2"/>
  <line x1="1159" y1="536.3" x2="1182" y2="536.3" stroke="#3A3A9A" stroke-width="1"/>
  <line x1="1123" y1="658" x2="1123" y2="671" stroke="#909090" stroke-width="1"/>
  <!-- link icon -->
  <path d="M106.8 198.9 H102 Q100.3 198.9 100.3 200.6 V202 Q100.3 203.7 102 203.7 H106.8 M111.2 198.9 H116 Q117.7 198.9 117.7 200.6 V202 Q117.7 203.7 116 203.7 H111.2 M104.5 201.3 H113.5" fill="none" stroke="#333" stroke-width="1.7"/>
</svg>
<div class="ct" id="hdrtxt" style="left:124px;top:194px;font-family:'Liberation Mono',monospace;font-size:13px;color:#505050;letter-spacing:0;-webkit-text-stroke:0;transform:scaleX(0.885);transform-origin:0 0">LmeS_铜3(LME CAD3M)</div>
<div class="ct" style="left:270px;top:193px;font-size:13px;color:#555">周线</div>
<svg class="abs" style="left:297px;top:197px" width="14" height="10"><path d="M1.5 2.5 L6.5 7.5 L11.5 2.5" stroke="#333" stroke-width="1.3" fill="none"/></svg>

<div class="ct" style="left:158px;top:214px;color:#1C1C94;letter-spacing:-0.1px">MA组合(5,10,20,40,60,0)</div>
<svg class="abs" style="left:311px;top:218px" width="14" height="10"><path d="M1.5 2.5 L6.5 7.5 L11.5 2.5" stroke="#1C1C94" stroke-width="1.3" fill="none"/></svg>
<div class="ct" style="left:335px;top:214px;color:#111">MA5 5472.50</div>
<div class="ct" style="left:430px;top:214px;color:#1C1C94">MA10 5652.60</div>
<div class="ct" style="left:533px;top:214px;color:#F020F0">MA20 5846.63</div>
<div class="ct" style="left:636px;top:214px;color:#1E7E1E">MA40 5842.50</div>
<div class="ct" style="left:740px;top:214px;color:#808080">MA60 5973.54</div>

<div class="ct rt" style="left:40px;width:111px;top:251.7px;color:#707070;font-weight:bold;letter-spacing:-0.4px">10000.00</div>
<div class="ct rt" style="left:40px;width:111px;top:524.5px;color:#707070;font-weight:bold;letter-spacing:-0.3px">5000.00</div>

<div class="ct" style="left:364.5px;top:232px;color:#F01010">10190.00</div>
<div class="ct" style="left:155px;top:298.7px;color:#F01010">8940.00</div>
<div class="ct" style="left:955px;top:386.7px;color:#F01010">7348.00</div>
<div class="ct" style="left:762px;top:571.7px;color:#1E7E1E">4318.00</div>
<div class="ct" style="left:154px;top:652.7px;color:#1C1C94;letter-spacing:0.25px">630<span style="color:#6060B0;margin-left:1px">周</span><span style="color:#1E8A1E;margin-left:2px;letter-spacing:-0.1px">2825.00</span></div>
<div class="ct" style="left:1098px;top:540.7px;color:#1E7E1E">4875.00</div>
<div class="ct rt" style="left:1080px;width:101px;top:488.7px;color:#1A8CF0">5518</div>
<div class="ct rt" style="left:1080px;width:101px;top:512.7px;color:#1A8CF0">5050.00</div>
<div class="ct rt" style="left:1080px;width:101px;top:553.7px;color:#1A8CF0">4305.04</div>

<div class="ct" style="left:278px;top:674.7px;color:#777">2010/01</div>
<div class="ct" style="left:438px;top:674.7px;color:#777">2012/01</div>
<div class="ct" style="left:598px;top:674.7px;color:#777">2014/01</div>
<div class="ct" style="left:760px;top:674.7px;color:#777">2016/01</div>
<div class="ct" style="left:921px;top:674.7px;color:#777">2018/01</div>

<div id="foot" class="abs"></div>
</body></html>
